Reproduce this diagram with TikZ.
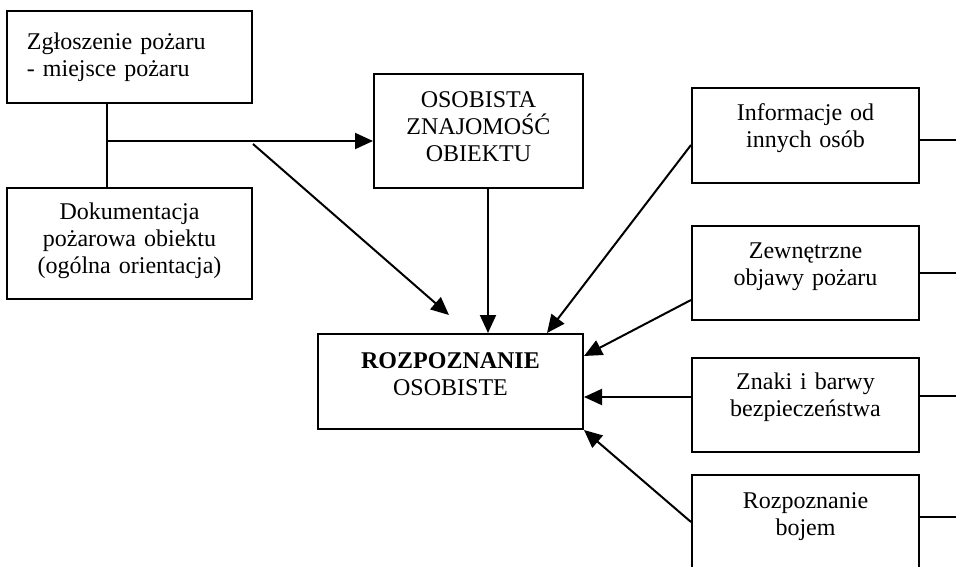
\documentclass[tikz,border=0pt]{standalone}
\usepackage{fontspec}
\setmainfont{Liberation Serif}
\usetikzlibrary{arrows.meta}

\begin{document}
\begin{tikzpicture}[x=1pt, y=-1pt, line width=2pt, >={Triangle[length=18pt,width=16pt]},
    main node/.style={draw, inner sep=0pt, anchor=north, align=center, text height=33pt,
        font=\fontsize{24}{27}\selectfont}]

                \useasboundingbox (0,0) rectangle (956,567);
                \clip (0,0) rectangle (956,567);

                \node[main node, minimum width=245pt, text width=205pt, align=left, text height=39pt, text depth=53pt] at (129.5, 10) (zgloszenie) {Zgłoszenie pożaru\\- miejsce pożaru};
                \node[main node, minimum width=245pt, text width=235pt, text height=31pt, text depth=80pt] at (129.5, 187) (dokumentacja) {Dokumentacja\\pożarowa obiektu\\(ogólna orientacja)};
                \node[main node, minimum width=209pt, text width=199pt, text height=34pt, text depth=80pt] at (478.5, 73) (znajomosc) {OSOBISTA\\ZNAJOMOŚĆ\\OBIEKTU};
                \node[main node, minimum width=265pt, text width=255pt, text height=34pt, text depth=61pt] at (450.5, 333) (rozpoznanie) {\textbf{ROZPOZNANIE}\\OSOBISTE};
                \node[main node, minimum width=227pt, text width=217pt, text depth=62pt] at (805.5, 87) (informacje) {Informacje od\\innych osób};
                \node[main node, minimum width=227pt, text width=217pt, text height=32pt, text depth=62pt] at (805.5, 225) (objawy) {Zewnętrzne\\objawy pożaru};
                \node[main node, minimum width=227pt, text width=217pt, text height=31pt, text depth=63pt] at (805.5, 357) (znaki) {Znaki i barwy\\bezpieczeństwa};
                \node[main node, minimum width=227pt, text width=217pt, text depth=80pt] at (805.5, 474) (bojem) {Rozpoznanie\\bojem};

                \coordinate (j) at (107, 141);
                \coordinate (skos) at (253, 144);
                \coordinate (grot) at (449, 315);
                \coordinate (informacje out) at (956, 140);
                \coordinate (objawy out) at (956, 273);
                \coordinate (znaki out) at (956, 396);
                \coordinate (bojem out) at (956, 517);

                \path[draw] (zgloszenie.south -| j) -- (dokumentacja.north -| j);
                \path[->] (j) edge (znajomosc.west |- j);
                \path[->] (skos) edge (grot);
                \path[->] (znajomosc.south -| 488,0) edge (rozpoznanie.north -| 488,0);
                \path[->] (informacje.west |- 0,145) edge (rozpoznanie.north -| 547,0);
                \path[->] (objawy.west |- 0,300) edge (rozpoznanie.east |- 0,356);
                \path[->] (znaki.west |- 0,397) edge (rozpoznanie.east |- 0,397);
                \path[->] (bojem.west |- 0,522) edge (rozpoznanie.south east);

                \path (informacje.east |- informacje out) edge (informacje out);
                \path (objawy.east |- objawy out) edge (objawy out);
                \path (znaki.east |- znaki out) edge (znaki out);
                \path (bojem.east |- bojem out) edge (bojem out);
            \end{tikzpicture}
\end{document}
